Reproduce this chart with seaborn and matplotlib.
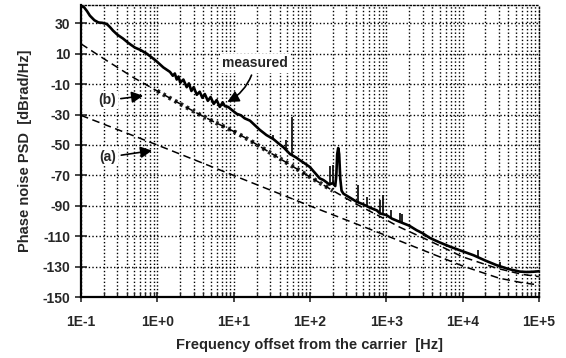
import numpy as np
import pandas as pd
import matplotlib
matplotlib.use("Agg")
import matplotlib.pyplot as plt
import seaborn as sns
from matplotlib.ticker import FixedLocator, LogLocator, NullFormatter

# ---- data ----
meas_f = [0.1, 0.11, 0.12, 0.131, 0.15, 0.17, 0.19, 0.217, 0.24, 0.263, 0.3, 0.355, 0.42, 0.51,
          0.6, 0.73, 0.85, 0.98, 1.2, 1.47, 1.6, 1.7, 1.8, 1.9, 2.0, 2.2, 2.43, 2.6, 2.8, 3.0,
          3.3, 3.6, 3.9, 4.2, 4.6, 5.0, 5.5, 6.0, 6.6, 7.2, 7.7, 8.5, 9.5, 11, 12.5, 14, 16.4,
          19, 22, 27, 33, 40, 45, 55, 65, 74, 85, 100, 122, 135, 150, 165, 180, 200, 215, 222,
          228, 235, 242, 250, 260, 275, 320, 410, 500, 600, 755, 830, 1000, 1200, 1500, 2000,
          2500, 3000, 3700, 5000, 7000, 10200, 14000, 20000, 28000, 40000, 56000, 70000, 85000,
          100000]
meas_db = [41.5, 40.5, 38, 35, 32, 30.5, 30.3, 29.6, 27.5, 25.2, 22.5, 20, 17, 14,
           12.5, 10, 7.5, 5, 1, -2, -4.5, -3, -7, -5, -9, -7, -12, -9.5, -14.5, -12,
           -17, -15, -19, -16.5, -21, -18.5, -23, -20.5, -25, -22, -24.5, -25, -27, -29.5, -30.5, -32.5, -34,
           -37, -40, -43.5, -46, -49.5, -51.5, -56, -58, -60, -62, -64.5, -69.5, -72, -73, -74.5, -76, -75, -77, -70,
           -56, -52, -56, -72, -80, -82, -84, -87.3, -89, -91, -93, -95, -96, -98.5, -100.5, -103,
           -106, -108, -111, -114, -117, -120, -122.5, -126, -129, -131.5, -133.2, -133.5, -133.3,
           -133]

spike_f = [33, 49, 59, 182, 200, 430, 555, 830, 910, 1170, 1500, 1600, 16000, 31000]
spike_top = [-43.5, -47, -31.6, -64, -63, -76.4, -84, -86, -83, -93, -94.7, -95.5, -119, -127]

a_f = [0.1, 1, 10, 100, 1000, 10000, 30000, 60000, 100000]
a_db = [-30.5, -50, -70, -90, -109.5, -129.5, -137.5, -140.5, -142]

b_f = [0.1, 0.217, 0.5, 1, 2, 3.6, 5.4, 10, 16.4, 30, 55, 100, 200, 410, 830, 1500, 3700,
       10000, 28000, 60000, 100000]
b_db = [16.5, 5.5, -6, -14.5, -23, -30, -34.5, -41, -47, -55, -63, -71, -80, -89, -97, -104,
        -113, -123.5, -131, -135, -136.5]

x_ticks = [0.1, 1, 10, 100, 1000, 10000, 100000]
x_labels = ["1E-1", "1E+0", "1E+1", "1E+2", "1E+3", "1E+4", "1E+5"]
y_ticks = [30, 10, -10, -30, -50, -70, -90, -110, -130, -150]
y_labels = ["30", "10", "-10", "-30", "-50", "-70", "-90", "-110", "-130", "-150"]

# ---- style ----
sns.set_style("white")
plt.rcParams['font.family'] = ['Liberation Sans', 'DejaVu Sans']

fig = plt.figure(figsize=(5.66, 3.58), dpi=100)
ax = fig.add_axes([0.143, 0.170, 0.809, 0.816])
ax.set_xscale('log')

meas = pd.DataFrame({"f": meas_f, "db": meas_db})
a_df = pd.DataFrame({"f": a_f, "db": a_db})
b_df = pd.DataFrame({"f": b_f, "db": b_db})

sns.lineplot(data=a_df, x="f", y="db", ax=ax, color="black", lw=1.1,
             linestyle=(0, (5, 3)), estimator=None)
sns.lineplot(data=b_df, x="f", y="db", ax=ax, color="black", lw=1.1,
             linestyle=(0, (5, 3)), estimator=None)
# hatched-looking thick part of (b)
b_mid = b_df[(b_df.f >= 1) & (b_df.f <= 200)]
sns.lineplot(data=b_mid, x="f", y="db", ax=ax, color="black", lw=3.2,
             linestyle=(0, (0.6, 0.9)), estimator=None, alpha=0.85)
sns.lineplot(data=meas, x="f", y="db", ax=ax, color="black", lw=1.9, estimator=None)

base = np.interp(np.log10(spike_f), np.log10(meas_f), meas_db)
ax.vlines(spike_f, base, spike_top, color="black", lw=1.2)

ax.set_xlim(0.1, 1e5)
ax.set_ylim(-150, 42)

ax.xaxis.set_major_locator(FixedLocator(x_ticks))
ax.set_xticklabels(x_labels)
ax.xaxis.set_minor_locator(LogLocator(base=10, subs=range(2, 10), numticks=20))
ax.xaxis.set_minor_formatter(NullFormatter())
ax.yaxis.set_major_locator(FixedLocator(y_ticks))
ax.set_yticklabels(y_labels)

gkw = dict(color="black", linestyle=(0, (1, 1.6)), lw=1.0)
ax.grid(True, which="both", axis="x", **gkw)
ax.grid(True, which="major", axis="y", **gkw)

ax.tick_params(axis="x", which="major", direction="inout", length=7, width=1.2,
               labelsize=10, pad=9, bottom=True)
ax.tick_params(axis="x", which="minor", direction="in", length=3.5, width=1.0, bottom=True)
ax.tick_params(axis="y", which="major", direction="inout", length=8, width=1.2,
               labelsize=10, left=True)
for lab in ax.get_xticklabels() + ax.get_yticklabels():
    lab.set_fontweight("bold")

for s in ["left", "bottom"]:
    ax.spines[s].set_color("black")
    ax.spines[s].set_linewidth(1.6)
for s in ["top", "right"]:
    ax.spines[s].set_color("black")
    ax.spines[s].set_linewidth(1.0)
    ax.spines[s].set_linestyle((0, (1, 1.6)))

ax.set_xlabel("Frequency offset from the carrier  [Hz]", fontsize=10.5, fontweight="bold", labelpad=7)
ax.set_ylabel("Phase noise PSD  [dBrad/Hz]", fontsize=10.5, fontweight="bold", labelpad=8)

arw = dict(arrowstyle="-|>", color="black", lw=1.2, mutation_scale=17)
ax.annotate("measured", xy=(7.7, -22.6), xytext=(19, 3.6), ha="center", va="center",
            fontsize=10, fontweight="bold",
            bbox=dict(boxstyle="square,pad=0.15", fc="white", ec="none"),
            arrowprops=dict(connectionstyle="arc3,rad=-0.25", **arw))
ax.annotate("(b)", xy=(0.71, -17.4), xytext=(0.22, -20.7), ha="center", va="center",
            fontsize=10, fontweight="bold",
            bbox=dict(boxstyle="square,pad=0.15", fc="white", ec="none"),
            arrowprops=dict(**arw))
ax.annotate("(a)", xy=(0.93, -53.4), xytext=(0.226, -58), ha="center", va="center",
            fontsize=10, fontweight="bold",
            bbox=dict(boxstyle="square,pad=0.15", fc="white", ec="none"),
            arrowprops=dict(**arw))

fig.savefig("out.png", dpi=100)
